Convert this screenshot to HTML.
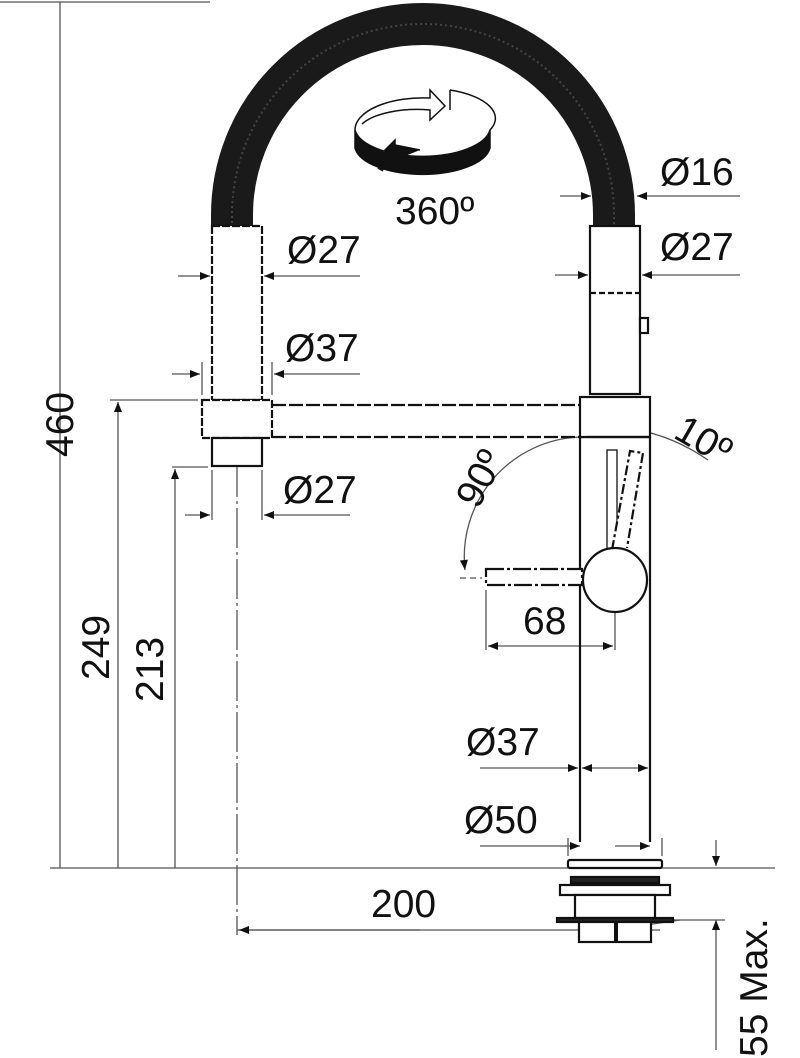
<!DOCTYPE html>
<html><head><meta charset="utf-8"><style>
html,body{margin:0;padding:0;background:#fff;}
svg{display:block}
text{font-family:"Liberation Sans",sans-serif;font-size:39px;fill:#111;}
</style></head><body>
<svg width="800" height="1058" viewBox="0 0 800 1058" xmlns="http://www.w3.org/2000/svg">
<defs>
<marker id="a" viewBox="0 0 10 10" refX="10" refY="5" markerWidth="20" markerHeight="10" markerUnits="userSpaceOnUse" orient="auto"><path d="M0,1 L10,5 L0,9z" fill="#111"/></marker>
</defs>
<g stroke="#555" stroke-width="1.3" fill="none">
<line x1="60" y1="2" x2="60" y2="868"/>
<line x1="50" y1="868" x2="568" y2="868"/>
<line x1="620" y1="868" x2="775" y2="868"/>
<line x1="0" y1="2" x2="210" y2="2"/>
<line x1="110" y1="400" x2="198" y2="400"/>
<line x1="118" y1="868" x2="118" y2="402" marker-end="url(#a)"/>
<line x1="172" y1="467" x2="208" y2="467"/>
<line x1="175" y1="868" x2="175" y2="469" marker-end="url(#a)"/>
<line x1="237" y1="457" x2="237" y2="935" stroke-dasharray="40 4 3 4"/>
<line x1="660" y1="930" x2="237" y2="930"/>
<line x1="420" y1="930" x2="239" y2="930" marker-end="url(#a)"/>
<line x1="680" y1="920" x2="612" y2="930" />
<line x1="716" y1="840" x2="716" y2="866" marker-end="url(#a)"/>
<line x1="716" y1="1050" x2="716" y2="920" marker-end="url(#a)"/>
<line x1="665" y1="920" x2="725" y2="920"/>
<line x1="560" y1="196" x2="591" y2="196" marker-end="url(#a)"/>
<line x1="740" y1="196" x2="637" y2="196" marker-end="url(#a)"/>
<line x1="555" y1="275" x2="588" y2="275" marker-end="url(#a)"/>
<line x1="740" y1="275" x2="642" y2="275" marker-end="url(#a)"/>
<line x1="178" y1="276" x2="210" y2="276" marker-end="url(#a)"/>
<line x1="360" y1="276" x2="264" y2="276" marker-end="url(#a)"/>
<line x1="172" y1="374" x2="200" y2="374" marker-end="url(#a)"/>
<line x1="360" y1="374" x2="274" y2="374" marker-end="url(#a)"/>
<line x1="202" y1="362" x2="202" y2="395"/><line x1="272" y1="362" x2="272" y2="395"/>
<line x1="212" y1="470" x2="212" y2="520"/><line x1="262" y1="470" x2="262" y2="520"/>
<line x1="185" y1="515" x2="210" y2="515" marker-end="url(#a)"/>
<line x1="350" y1="515" x2="264" y2="515" marker-end="url(#a)"/>
<line x1="486" y1="590" x2="486" y2="650"/>
<line x1="615" y1="600" x2="615" y2="650"/>
<line x1="550" y1="646" x2="488" y2="646" marker-end="url(#a)"/>
<line x1="550" y1="646" x2="613" y2="646" marker-end="url(#a)"/>
<line x1="480" y1="768" x2="578" y2="768" marker-end="url(#a)"/>
<line x1="615" y1="768" x2="582" y2="768" marker-end="url(#a)"/>
<line x1="615" y1="768" x2="648" y2="768" marker-end="url(#a)"/>
<line x1="480" y1="846" x2="580" y2="846" marker-end="url(#a)"/>
<line x1="615" y1="846" x2="650" y2="846" marker-end="url(#a)"/>
<line x1="568" y1="838" x2="568" y2="856"/><line x1="662" y1="838" x2="662" y2="856"/>
<path d="M580,437 A120,120 0 0 0 465,570" marker-end="url(#a)"/>
<line x1="460" y1="578" x2="482" y2="578" stroke-dasharray="6 4"/>
<path d="M580,428 Q650,420 708,460"/>
<line x1="590" y1="428" x2="640" y2="430" marker-end="url(#a)"/>
</g>
<path d="M232,228 L232,215 A191,191 0 0 1 614,215 L614,228" fill="none" stroke="#1a1a1a" stroke-width="42"/>
<path d="M232,228 L232,215 A191,191 0 0 1 614,215 L614,228" fill="none" stroke="#444" stroke-width="2" stroke-dasharray="2 3"/>
<g stroke="#111" stroke-width="2.2" fill="#fff">
<rect x="212" y="226" width="50" height="174" stroke-dasharray="8 2"/>
<rect x="202" y="400" width="70" height="38" stroke-dasharray="8 2"/>
<rect x="212" y="438" width="50" height="28"/>
<line x1="272" y1="405" x2="585" y2="405" stroke-dasharray="14 3"/>
<line x1="272" y1="437" x2="585" y2="437" stroke-dasharray="14 3"/>
<rect x="590" y="226" width="50" height="168"/>
<line x1="590" y1="293" x2="640" y2="293" stroke-dasharray="6 3"/>
<rect x="640" y="318" width="8" height="15"/>
<rect x="580" y="397" width="70" height="40"/>
<line x1="580" y1="437" x2="580" y2="842"/>
<line x1="650" y1="437" x2="650" y2="842"/>
<line x1="586" y1="437" x2="650" y2="437"/>
<rect x="607" y="450" width="10" height="100" stroke-width="1.3"/>
<path d="M612,550 L630,451 L643,453 L627,548" stroke-dasharray="10 3 3 3"/>
<rect x="486" y="569" width="96" height="16" stroke-dasharray="18 3 3 3"/>
<circle cx="615" cy="580" r="32"/>
<rect x="568" y="860" width="94" height="8" rx="2"/>
<rect x="571" y="877" width="88" height="6" fill="#222"/>
<rect x="560" y="885" width="110" height="10"/>
<rect x="575" y="895" width="80" height="23"/>
<rect x="557" y="918" width="116" height="4" fill="#222"/>
<rect x="579" y="922" width="72" height="20"/>
<line x1="616" y1="922" x2="616" y2="942" stroke-width="4"/>
</g>
<g stroke="#111" stroke-width="1.5">
<path d="M355,130 L355,148 A68,30 0 0 0 490,148 L490,130 A68,30 0 0 1 355,130z" fill="#111"/>
<path d="M355,130 A68,32 0 0 1 430,98 L430,90 L445,106 L430,120 L430,110 A60,24 0 0 0 362,124" fill="#fff"/>
<path d="M450,90 A68,30 0 0 1 490,130" fill="none"/>
<path d="M450,90 L450,110" fill="none"/>
<path d="M395,160 L385,150 L395,140 L395,145 L420,150" fill="#111"/>
<path d="M380,170 L392,150" stroke-width="6"/>
</g>
<text x="395" y="224">360º</text>
<text x="660" y="185">Ø16</text>
<text x="660" y="260">Ø27</text>
<text x="287" y="263">Ø27</text>
<text x="285" y="361">Ø37</text>
<text x="283" y="503">Ø27</text>
<text x="523" y="634">68</text>
<text x="466" y="755">Ø37</text>
<text x="464" y="833">Ø50</text>
<text x="371" y="917">200</text>
<text transform="translate(73,457) rotate(-90)">460</text>
<text transform="translate(109,680) rotate(-90)">249</text>
<text transform="translate(163,702) rotate(-90)">213</text>
<text transform="translate(767,1057) rotate(-90)">55 Max.</text>
<text transform="translate(478,510) rotate(-62)">90º</text>
<text transform="translate(672,437) rotate(30)">10º</text>
</svg>
</body></html>
